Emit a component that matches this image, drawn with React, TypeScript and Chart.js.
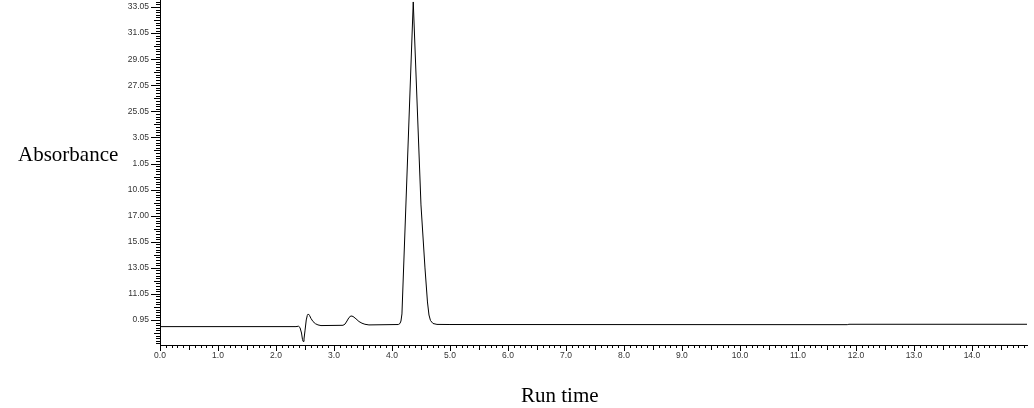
import React, { useEffect, useRef } from "react";
import { Chart, registerables } from "chart.js";

Chart.register(...registerables);

// Run time (min) and absorbance values
const runTime = [
  0, 2.345, 2.388, 2.414, 2.44, 2.457, 2.469, 2.483, 2.5, 2.522, 2.54, 2.557,
  2.578, 2.603, 2.638, 2.681, 2.724, 2.776, 3.155, 3.19, 3.224, 3.259, 3.293,
  3.328, 3.379, 3.431, 3.483, 3.534, 3.603, 4.109, 4.138, 4.155, 4.172, 4.367,
  4.5, 4.569, 4.612, 4.638, 4.664, 4.707, 4.776, 5.0, 11.85, 11.88, 14.95,
];
const absorbance = [
  0.49, 0.49, 0.52, 0.42, 0.0, -0.5, -0.65, -0.46, 0.16, 1.0, 1.35, 1.46,
  1.35, 1.12, 0.88, 0.71, 0.62, 0.57, 0.59, 0.68, 0.92, 1.19, 1.31,
  1.27, 1.09, 0.88, 0.75, 0.67, 0.62, 0.65, 0.73, 0.92, 1.46, 25.39,
  9.82, 4.99, 2.38, 1.38, 0.96, 0.73, 0.66, 0.65, 0.64, 0.67, 0.67,
];

// Axis ticks
const xTickValues = [0, 1, 2, 3, 4, 5, 6, 7, 8, 9, 10, 11, 12, 13, 14];
const xTickLabels = [
  "0.0", "1.0", "2.0", "3.0", "4.0", "5.0", "6.0", "7.0", "8.0", "9.0",
  "10.0", "11.0", "12.0", "13.0", "14.0",
];
const yTickValues = [1, 3, 5, 7, 9, 11, 13, 15, 17, 19, 21, 23, 25];
const yTickLabels = [
  "0.95", "11.05", "13.05", "15.05", "17.00", "10.05", "1.05", "3.05",
  "25.05", "27.05", "29.05", "31.05", "33.05",
];

const X_MIN = 0;
const X_MAX = 14.95;
const Y_MIN = -0.92;
const Y_MAX = 25.54;

const minorTicks = {
  id: "minorTicks",
  afterDraw(chart: any) {
    const ctx = chart.ctx;
    const xs = chart.scales.x;
    const ys = chart.scales.y;
    const area = chart.chartArea;
    ctx.save();
    ctx.strokeStyle = "#000";
    ctx.lineWidth = 1;
    ctx.beginPath();
    for (let k = 0; k * 0.1 <= X_MAX + 1e-9; k++) {
      const v = k / 10;
      const px = Math.round(xs.getPixelForValue(v)) + 0.5;
      const len = k % 10 === 0 ? 6 : k % 5 === 0 ? 5 : 3;
      ctx.moveTo(px, area.bottom);
      ctx.lineTo(px, area.bottom + len);
    }
    const kStart = Math.ceil(Y_MIN / 0.2);
    const kEnd = Math.floor(Y_MAX / 0.2);
    for (let k = kStart; k <= kEnd; k++) {
      const v = k * 0.2;
      const py = Math.round(ys.getPixelForValue(v)) + 0.5;
      const r = Math.round(v * 10);
      let len = 4;
      if (r % 10 === 0) {
        len = Math.abs(r / 10) % 2 === 1 ? 9 : 6;
      }
      ctx.moveTo(area.left - len, py);
      ctx.lineTo(area.left, py);
    }
    ctx.stroke();
    ctx.restore();
  },
};

export default function App() {
  const ref = useRef<HTMLCanvasElement | null>(null);

  useEffect(() => {
    if (!ref.current) return;
    const chart = new Chart(ref.current, {
      type: "line",
      data: {
        datasets: [
          {
            data: runTime.map((t, i) => ({ x: t, y: absorbance[i] })),
            borderColor: "#000",
            borderWidth: 1,
            pointRadius: 0,
            fill: false,
            tension: 0,
          },
        ],
      },
      options: {
        animation: false,
        responsive: false,
        devicePixelRatio: 1,
        layout: { padding: { left: 0, right: 7, top: 0, bottom: 0 } },
        plugins: {
          legend: { display: false },
          tooltip: { enabled: false },
        },
        scales: {
          x: {
            type: "linear",
            min: X_MIN,
            max: X_MAX,
            grid: { display: false, drawTicks: false },
            border: { display: true, color: "#000", width: 1 },
            ticks: {
              padding: 6,
              autoSkip: false,
              maxRotation: 0,
              color: "#333",
              font: { family: "'Liberation Sans', Arial, sans-serif", size: 8.5 },
              callback: (value: any) => {
                const i = xTickValues.indexOf(Number(value));
                return i >= 0 ? xTickLabels[i] : "";
              },
            },
            afterBuildTicks: (s: any) => {
              s.ticks = xTickValues.map((v) => ({ value: v }));
            },
            afterFit: (s: any) => {
              s.height = 63;
              s.paddingLeft = 0;
              s.paddingRight = 0;
            },
          },
          y: {
            type: "linear",
            min: Y_MIN,
            max: Y_MAX,
            grid: { display: false, drawTicks: false },
            border: { display: true, color: "#000", width: 1 },
            ticks: {
              padding: 11,
              autoSkip: false,
              color: "#333",
              font: { family: "'Liberation Sans', Arial, sans-serif", size: 8.5 },
              callback: (value: any) => {
                const i = yTickValues.indexOf(Number(value));
                return i >= 0 ? yTickLabels[i] : "";
              },
            },
            afterBuildTicks: (s: any) => {
              s.ticks = yTickValues.map((v) => ({ value: v }));
            },
            afterFit: (s: any) => {
              s.width = 160;
              s.paddingTop = 0;
              s.paddingBottom = 0;
            },
          },
        },
      },
      plugins: [minorTicks],
    } as any);
    return () => chart.destroy();
  }, []);

  const titleStyle: React.CSSProperties = {
    position: "absolute",
    fontFamily: "'Liberation Serif', 'Times New Roman', serif",
    fontSize: "21px",
    lineHeight: "21px",
    color: "#000",
    whiteSpace: "nowrap",
  };

  return (
    <div style={{ position: "absolute", left: 0, top: 0, width: 1034, height: 408, background: "#fff" }}>
      <canvas ref={ref} width={1034} height={408} style={{ position: "absolute", left: 0, top: 0 }} />
      <div style={{ ...titleStyle, left: 18, top: 144 }}>Absorbance</div>
      <div style={{ ...titleStyle, left: 521, top: 385 }}>Run time</div>
    </div>
  );
}
